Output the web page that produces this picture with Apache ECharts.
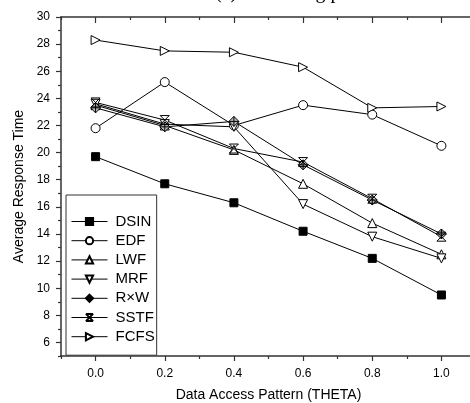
<!DOCTYPE html>
<html><head><meta charset="utf-8">
<script src="https://cdn.jsdelivr.net/npm/echarts@6/dist/echarts.min.js"></script>
<style>html,body{margin:0;padding:0;background:#fff}#c{width:470px;height:403px}</style>
</head><body><div id="c"></div>
<script>
var thetas = [0.0, 0.2, 0.4, 0.6, 0.8, 1.0];
var seriesNames = ['DSIN', 'EDF', 'LWF', 'MRF', 'R\u00d7W', 'SSTF', 'FCFS'];
var DSIN = [19.7, 17.7, 16.3, 14.2, 12.2, 9.5];
var EDF  = [21.8, 25.2, 22.0, 23.5, 22.8, 20.5];
var LWF  = [23.5, 22.0, 20.2, 17.7, 14.8, 12.5];
var MRF  = [23.6, 22.1, 21.9, 16.2, 13.8, 12.2];
var RXW  = [23.3, 21.9, 22.3, 19.1, 16.5, 14.0];
var SSTF = [23.7, 22.4, 20.3, 19.3, 16.6, 13.8];
var FCFS = [28.3, 27.5, 27.4, 26.3, 23.3, 23.4];
var xTickLabels = [0.0, 0.2, 0.4, 0.6, 0.8, 1.0];
var xMinorTicks = [-0.1, 0.1, 0.3, 0.5, 0.7, 0.9];
var yTickLabels = [6, 8, 10, 12, 14, 16, 18, 20, 22, 24, 26, 28, 30];
var yMinorTicks = [5, 7, 9, 11, 13, 15, 17, 19, 21, 23, 25, 27, 29];
var titleText = '(a) Increasing p';

var allValues = [DSIN, EDF, LWF, MRF, RXW, SSTF, FCFS];
var symbols = [
  {symbol: 'rect', size: 8, fill: '#000', rot: 0},
  {symbol: 'circle', size: 9, fill: '#fff', rot: 0},
  {symbol: 'triangle', size: 9, fill: '#fff', rot: 0},
  {symbol: 'triangle', size: 9, fill: '#fff', rot: 180},
  {symbol: 'path://M0,-1L1,0L0,1L-1,0Z M-1,0L1,0 M0,-1L0,1', size: 10, fill: '#bbb', rot: 0},
  {symbol: 'path://M-1,-1L1,1M1,-1L-1,1M-1,-1L1,-1M-1,1L1,1', size: 9, fill: 'rgba(0,0,0,0)', rot: 0},
  {symbol: 'triangle', size: 9, fill: '#fff', rot: -90}
];
var FONT = 'Liberation Sans, Arial, sans-serif';
var AX = '#333';

var series = seriesNames.map(function (n, i) {
  return {
    name: n, type: 'line', xAxisIndex: 0, yAxisIndex: 0,
    data: thetas.map(function (t, j) { return [t, allValues[i][j]]; }),
    symbol: symbols[i].symbol, symbolSize: symbols[i].size, symbolRotate: symbols[i].rot,
    lineStyle: {color: '#000', width: 1},
    itemStyle: {color: symbols[i].fill, borderColor: '#000', borderWidth: 1},
    emphasis: {disabled: true}, animation: false
  };
});

var baseX = {type: 'value', min: -0.1, max: 1.1, splitLine: {show: false}};
var baseY = {type: 'value', min: 5, max: 30, splitLine: {show: false}};
var chart = echarts.init(document.getElementById('c'));
chart.setOption({
  animation: false,
  title: {text: titleText, left: 210, top: -22, textStyle: {fontFamily: 'Liberation Serif, Times New Roman, serif', fontSize: 20, fontWeight: 'normal', color: '#000'}},
  grid: {left: 61, top: 17, width: 415, height: 339, outerBoundsMode: 'none', containLabel: false},
  legend: {
    orient: 'vertical', left: 66, top: 195,
    data: seriesNames,
    itemWidth: 36, itemHeight: 9, itemGap: 4.2,
    padding: [19, 2, 11, 5],
    borderColor: '#333', borderWidth: 1, backgroundColor: '#fff',
    lineStyle: {width: 1},
    textStyle: {fontFamily: FONT, fontSize: 15, color: '#000', padding: [0, 0, 0, 3]}
  },
  xAxis: [
    Object.assign({}, baseX, {position: 'bottom', name: 'Data Access Pattern (THETA)', nameLocation: 'middle', nameGap: 32,
      nameTextStyle: {fontFamily: FONT, fontSize: 14, color: '#000'},
      axisLine: {show: true, onZero: false, lineStyle: {color: AX, width: 1.5}},
      axisTick: {show: true, inside: false, length: 5, customValues: xTickLabels, lineStyle: {color: AX, width: 1.2}},
      axisLabel: {show: true, margin: 12, customValues: xTickLabels, fontFamily: FONT, fontSize: 12, color: '#000',
        formatter: function (v) { return v.toFixed(1); }}}),
    Object.assign({}, baseX, {position: 'bottom',
      axisLine: {show: false, onZero: false},
      axisTick: {show: true, inside: false, length: 3, customValues: xMinorTicks, lineStyle: {color: AX, width: 1.2}},
      axisLabel: {show: false}}),
    Object.assign({}, baseX, {position: 'top',
      axisLine: {show: true, onZero: false, lineStyle: {color: AX, width: 1.5}},
      axisTick: {show: true, inside: true, length: 6, customValues: xTickLabels, lineStyle: {color: AX, width: 1.2}},
      axisLabel: {show: false}}),
    Object.assign({}, baseX, {position: 'top',
      axisLine: {show: false, onZero: false},
      axisTick: {show: true, inside: true, length: 3, customValues: xMinorTicks, lineStyle: {color: AX, width: 1.2}},
      axisLabel: {show: false}})
  ],
  yAxis: [
    Object.assign({}, baseY, {position: 'left', name: 'Average Response Time', nameLocation: 'middle', nameGap: 29,
      nameTextStyle: {fontFamily: FONT, fontSize: 14, color: '#000'},
      axisLine: {show: true, onZero: false, lineStyle: {color: AX, width: 1.5}},
      axisTick: {show: true, inside: false, length: 5, customValues: yTickLabels, lineStyle: {color: AX, width: 1.2}},
      axisLabel: {show: true, margin: 11, customValues: yTickLabels, fontFamily: FONT, fontSize: 12, color: '#000'}}),
    Object.assign({}, baseY, {position: 'left',
      axisLine: {show: false, onZero: false},
      axisTick: {show: true, inside: false, length: 3, customValues: yMinorTicks, lineStyle: {color: AX, width: 1.2}},
      axisLabel: {show: false}}),
    Object.assign({}, baseY, {position: 'right',
      axisLine: {show: true, onZero: false, lineStyle: {color: AX, width: 1.5}},
      axisTick: {show: false}, axisLabel: {show: false}})
  ],
  series: series
});
</script></body></html>
